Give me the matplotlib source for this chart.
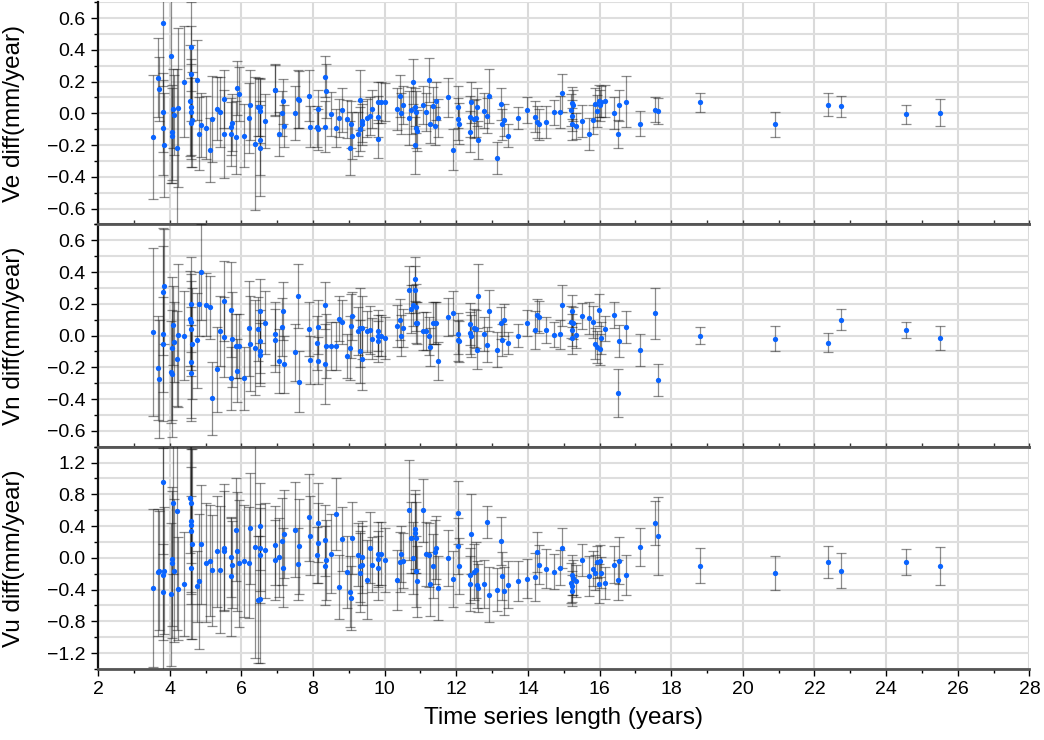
import matplotlib
matplotlib.use('Agg')
import matplotlib.pyplot as plt
from matplotlib.ticker import MultipleLocator, FuncFormatter

plt.rcParams['font.family'] = ['Liberation Sans', 'DejaVu Sans']

# ---------------- data ----------------
# time series length of each station (years)
years = [
    3.545, 3.68, 3.70, 3.81, 3.82, 3.80, 3.84, 4.03, 4.06, 4.07,
    4.09, 4.12, 4.20, 4.23, 4.39, 4.57, 4.60, 4.60, 4.59, 4.59,
    4.61, 4.59, 4.76, 4.83, 4.86, 5.02, 5.11, 5.17, 5.31, 5.41,
    5.52, 5.52, 5.72, 5.74, 5.72, 5.85, 5.88, 5.94, 6.06, 6.20,
    6.23, 6.39, 6.46, 6.52, 6.52, 6.53, 6.53, 6.65, 6.93, 6.94,
    7.06, 7.15, 7.14, 7.20, 7.49, 7.58, 7.62, 7.90, 7.92, 8.10,
    8.14, 8.15, 8.33, 8.35, 8.34, 8.49, 8.63, 8.73, 8.81, 8.96,
    9.03, 9.05, 9.09, 9.25, 9.31, 9.31, 9.36, 9.38, 9.52, 9.58,
    9.64, 9.80, 9.80, 9.81, 9.91, 10.0,
    10.34, 10.43, 10.45, 10.5, 10.68, 10.73, 10.78, 10.86, 10.85, 10.87,
    10.88, 10.91, 11.07, 11.16, 11.24, 11.26, 11.36, 11.40, 11.44, 11.5,
    11.77, 11.92, 12.04, 12.05, 12.07, 12.39, 12.42, 12.39, 12.48, 12.54,
    12.57, 12.6, 12.76, 12.85, 12.9, 13.14, 13.26, 13.28, 13.34, 13.45,
    13.71, 13.98, 14.19, 14.25, 14.3, 14.51, 14.72, 14.9, 14.95, 15.19,
    15.22, 15.23, 15.22, 15.26, 15.33, 15.51, 15.7, 15.81, 15.86, 15.94,
    15.98, 16.02, 16.05, 16.16, 16.4, 16.51, 16.54, 16.74, 17.14,
    17.54, 17.63, 18.79, 20.9, 22.39, 22.75, 24.55, 25.5,
]

ve = [
    -0.15, 0.225, 0.154, 0.57, 0.006, -0.09, -0.2, 0.36, -0.14, -0.12,
    0.03, -0.01, -0.22, 0.035, 0.2, 0.08, 0.42, 0.25, 0.04, 0.01,
    -0.04, -0.06, 0.21, -0.13, -0.075, -0.09, -0.23, -0.035, 0.03, 0.01,
    0.09, -0.13, -0.085, -0.06, -0.13, -0.15, 0.16, 0.12, -0.14, -0.03,
    0.05, -0.19, 0.04, 0.04, -0.17, -0.22, 0.015, -0.05, 0.15, 0.145,
    -0.13, 0.075, 0.0, -0.08, 0.005, 0.09, 0.085, 0.11, -0.085, -0.085,
    0.025, -0.1, 0.23, 0.14, -0.085, -0.005, -0.09, -0.03, 0.02, -0.035,
    -0.22, -0.07, -0.14, -0.13, 0.085, -0.1, -0.05, -0.07, -0.03, -0.015,
    0.03, -0.02, -0.16, 0.07, 0.07, 0.07,
    0.027, 0.11, 0.0, 0.05, -0.03, 0.018, 0.2, 0.04, -0.2, -0.09,
    0.008, -0.11, 0.05, 0.01, 0.21, -0.065, 0.045, -0.08, 0.08, -0.03,
    0.1, -0.23, 0.04, -0.035, -0.065, -0.02, 0.07, -0.115, -0.035, -0.03,
    0.04, -0.17, 0.016, -0.015, 0.11, -0.28, 0.06, -0.07, -0.04, -0.14,
    -0.03, 0.02, -0.02, -0.055, -0.07, -0.055, 0.006, 0.01, 0.13, 0.02,
    0.066, -0.014, -0.065, 0.05, -0.08, -0.05, -0.13, -0.04, 0.06, 0.017,
    0.077, 0.05, 0.074, 0.077, 0.004, -0.13, 0.05, 0.074, -0.065,
    0.023, 0.015, 0.07, -0.07, 0.055, 0.045, -0.005, 0.005,
]
ve_err = [
    0.39, 0.25, 0.2, 0.4, 0.25, 0.3, 0.33, 0.8, 0.3, 0.3,
    0.25, 0.25, 0.5, 0.5, 0.35, 0.35, 0.28, 0.3, 0.3, 0.3,
    0.3, 0.28, 0.25, 0.23, 0.2, 0.2, 0.2, 0.27, 0.2, 0.22,
    0.18, 0.28, 0.18, 0.18, 0.2, 0.23, 0.17, 0.17, 0.2, 0.22,
    0.22, 0.42, 0.18, 0.18, 0.22, 0.3, 0.2, 0.17, 0.16, 0.16,
    0.14, 0.14, 0.14, 0.13, 0.17, 0.18, 0.18, 0.16, 0.13, 0.13,
    0.12, 0.13, 0.13, 0.17, 0.16, 0.14, 0.12, 0.12, 0.14, 0.12,
    0.17, 0.15, 0.15, 0.14, 0.19, 0.14, 0.13, 0.13, 0.12, 0.12,
    0.12, 0.13, 0.12, 0.13, 0.13, 0.12,
    0.13, 0.13, 0.13, 0.12, 0.17, 0.15, 0.14, 0.12, 0.18, 0.13,
    0.13, 0.13, 0.12, 0.12, 0.14, 0.12, 0.12, 0.12, 0.12, 0.12,
    0.12, 0.13, 0.13, 0.13, 0.13, 0.13, 0.13, 0.13, 0.12, 0.12,
    0.12, 0.12, 0.11, 0.11, 0.17, 0.1, 0.1, 0.1, 0.1, 0.07,
    0.07, 0.08, 0.1, 0.1, 0.1, 0.1, 0.08, 0.1, 0.12, 0.1,
    0.1, 0.1, 0.1, 0.1, 0.08, 0.1, 0.1, 0.09, 0.1, 0.1,
    0.1, 0.1, 0.1, 0.1, 0.1, 0.09, 0.1, 0.16, 0.08,
    0.08, 0.08, 0.06, 0.08, 0.07, 0.065, 0.06, 0.085,
]

vn = [
    0.023, -0.204, -0.274, 0.276, 0.012, -0.054, 0.31, -0.23, -0.24, -0.08,
    0.065, -0.04, -0.145, 0.003, 0.0, 0.107, 0.198, 0.044, 0.086, -0.168,
    -0.05, -0.235, -0.03, 0.2, 0.4, 0.195, 0.177, -0.394, -0.213, 0.03,
    0.217, -0.01, 0.163, -0.023, -0.27, -0.066, -0.22, -0.066, -0.27, 0.045,
    -0.05, -0.077, 0.04, 0.156, -0.1, -0.12, -0.036, 0.082, 0.012, -0.03,
    -0.16, 0.155, 0.054, -0.18, -0.105, 0.25, -0.29, 0.04, -0.153, -0.048,
    0.056, -0.157, 0.19, -0.066, -0.18, -0.066, -0.066, 0.107, 0.086, -0.13,
    -0.077, 0.06, 0.123, 0.028, 0.05, -0.1, 0.05, -0.145, 0.026, 0.036,
    -0.02, 0.03, -0.035, 0.0, 0.0, -0.015,
    0.06, 0.1, 0.0, 0.045, 0.29, 0.166, 0.19, 0.355, 0.29, 0.177,
    0.082, 0.08, 0.03, 0.03, -0.002, -0.072, 0.08, 0.08, 0.08, -0.159,
    0.115, 0.143, 0.012, -0.03, -0.035, 0.073, -0.002, 0.016, 0.05, 0.04,
    -0.093, 0.25, 0.01, -0.057, 0.156, -0.09, 0.08, -0.03, 0.098, -0.047,
    0.0, 0.08, 0.036, 0.13, 0.118, 0.036, 0.006, 0.008, 0.19, 0.086,
    0.156, 0.034, -0.018, 0.08, 0.002, 0.123, 0.11, 0.086, -0.05, -0.072,
    0.16, -0.087, -0.013, 0.044, 0.13, -0.36, -0.035, 0.053, -0.09,
    0.14, -0.28, 0.0, -0.02, -0.045, 0.1, 0.035, -0.015,
]
vn_err = [
    0.53, 0.33, 0.37, 0.4, 0.55, 0.3, 0.36, 0.32, 0.4, 0.45,
    0.25, 0.25, 0.3, 0.45, 0.28, 0.3, 0.3, 0.3, 0.3, 0.35,
    0.35, 0.3, 0.3, 0.2, 0.3, 0.2, 0.2, 0.23, 0.27, 0.22,
    0.25, 0.25, 0.3, 0.3, 0.2, 0.2, 0.2, 0.2, 0.2, 0.3,
    0.3, 0.3, 0.2, 0.2, 0.2, 0.2, 0.2, 0.2, 0.2, 0.2,
    0.2, 0.18, 0.18, 0.18, 0.18, 0.2, 0.19, 0.17, 0.15, 0.17,
    0.17, 0.15, 0.15, 0.2, 0.25, 0.15, 0.15, 0.14, 0.14, 0.14,
    0.2, 0.2, 0.15, 0.15, 0.25, 0.2, 0.2, 0.2, 0.13, 0.15,
    0.13, 0.13, 0.13, 0.13, 0.13, 0.13,
    0.13, 0.13, 0.13, 0.12, 0.15, 0.15, 0.13, 0.14, 0.15, 0.15,
    0.13, 0.13, 0.12, 0.12, 0.12, 0.12, 0.13, 0.13, 0.13, 0.12,
    0.12, 0.14, 0.13, 0.13, 0.13, 0.13, 0.13, 0.13, 0.12, 0.12,
    0.12, 0.2, 0.11, 0.11, 0.13, 0.11, 0.1, 0.1, 0.1, 0.07,
    0.07, 0.08, 0.12, 0.1, 0.1, 0.08, 0.08, 0.09, 0.13, 0.1,
    0.1, 0.1, 0.1, 0.1, 0.08, 0.08, 0.1, 0.1, 0.1, 0.1,
    0.1, 0.1, 0.1, 0.08, 0.08, 0.15, 0.1, 0.1, 0.1,
    0.16, 0.1, 0.055, 0.08, 0.06, 0.065, 0.05, 0.075,
]

vu = [
    -0.38, -0.18, -0.16, 0.95, -0.21, -0.43, -0.16, -0.46, -0.01, -0.063,
    0.694, -0.16, 0.59, -0.388, -0.33, 0.757, 0.687, 0.465, 0.34, 0.413,
    0.176, -0.127, -0.36, -0.295, 0.17, -0.063, -0.034, -0.156, 0.084, -0.15,
    0.13, 0.09, 0.008, -0.084, -0.23, 0.357, 0.084, -0.07, -0.04, -0.063,
    0.374, 0.138, -0.527, -0.52, 0.397, 0.126, 0.033, 0.097, 0.156, -0.025,
    0.008, -0.122, 0.21, 0.3, 0.353, -0.076, 0.147, 0.51, 0.28, 0.033,
    0.445, 0.188, 0.22, -0.025, -0.1, 0.054, 0.55, -0.37, 0.24, -0.18,
    -0.426, -0.506, 0.252, 0.042, -0.107, -0.187, 0.008, -0.094, -0.274, 0.13,
    -0.084, -0.013, -0.13, 0.054, 0.054, -0.025,
    -0.28, -0.05, 0.046, -0.034, 0.597, 0.256, 0.0, 0.36, 0.31, 0.256,
    -0.17, -0.295, 0.597, 0.046, 0.038, -0.33, -0.1, 0.076, 0.13, -0.38,
    0.0, -0.27, 0.57, 0.15, -0.1, -0.22, 0.3, -0.325, -0.18, -0.15,
    -0.338, -0.38, -0.33, 0.45, -0.464, -0.404, 0.21, -0.227, -0.42, -0.338,
    -0.29, -0.262, -0.245, 0.076, -0.084, -0.135, -0.177, -0.122, 0.126, -0.32,
    -0.22, -0.413, -0.36, -0.253, -0.29, -0.029, -0.227, -0.135, -0.19, -0.055,
    -0.325, -0.038, -0.185, -0.32, -0.084, -0.28, -0.034, -0.215, 0.14,
    0.44, 0.28, -0.1, -0.19, -0.05, -0.16, -0.05, -0.1,
]
vu_err = [
    1.0, 0.8, 0.75, 0.9, 1.6, 0.6, 0.8, 0.9, 0.85, 0.95,
    0.9, 0.9, 1.5, 0.65, 0.65, 0.7, 0.75, 0.9, 0.8, 1.0,
    1.2, 0.9, 0.45, 0.85, 0.75, 0.75, 0.7, 0.7, 0.7, 0.8,
    0.8, 0.75, 0.5, 0.55, 0.75, 0.65, 0.75, 0.8, 0.7, 0.7,
    0.7, 1.4, 0.8, 0.8, 0.55, 0.55, 0.6, 0.6, 0.5, 0.5,
    0.5, 0.5, 0.55, 0.55, 0.6, 0.45, 0.6, 0.55, 0.5, 0.35,
    0.5, 0.5, 0.45, 0.5, 0.5, 0.5, 0.45, 0.4, 0.4, 0.45,
    0.45, 0.4, 0.45, 0.4, 0.45, 0.5, 0.45, 0.5, 0.5, 0.45,
    0.35, 0.35, 0.4, 0.4, 0.4, 0.4,
    0.38, 0.38, 0.35, 0.35, 0.63, 0.45, 0.45, 0.5, 0.5, 0.45,
    0.45, 0.45, 0.4, 0.4, 0.4, 0.4, 0.4, 0.4, 0.4, 0.4,
    0.35, 0.35, 0.4, 0.35, 0.35, 0.35, 0.5, 0.35, 0.35, 0.35,
    0.3, 0.3, 0.3, 0.2, 0.35, 0.27, 0.3, 0.3, 0.3, 0.3,
    0.25, 0.25, 0.3, 0.25, 0.25, 0.25, 0.22, 0.22, 0.25, 0.25,
    0.25, 0.2, 0.2, 0.22, 0.2, 0.2, 0.25, 0.22, 0.22, 0.2,
    0.25, 0.2, 0.2, 0.2, 0.23, 0.25, 0.3, 0.25, 0.24,
    0.28, 0.49, 0.22, 0.21, 0.2, 0.22, 0.16, 0.24,
]

panels = [
    ('Ve diff(mm/year)', ve, ve_err, 0.7, 0.2, 0.1),
    ('Vn diff(mm/year)', vn, vn_err, 0.7, 0.2, 0.1),
    ('Vu diff(mm/year)', vu, vu_err, 1.4, 0.4, 0.2),
]

# ---------------- figure ----------------
fig, axes = plt.subplots(3, 1, figsize=(10.44, 7.40), dpi=100, sharex=True)
fig.subplots_adjust(left=0.094, right=0.986, top=0.997, bottom=0.096, hspace=0)

fmt = FuncFormatter(lambda v, pos: f'{v:.1f}'.replace('-', '\u2212'))

for i, (ax, (label, vals, errs, lim, major, minor)) in enumerate(zip(axes, panels)):
    ax.errorbar(years, vals, yerr=errs, fmt='o', ms=3.8, mfc='#0a64ff', mec='none',
                ecolor=(0.1, 0.1, 0.1, 0.5), elinewidth=0.9, capsize=3.5,
                capthick=0.9, zorder=3)
    ax.set_ylim(-lim, lim)
    ax.set_xlim(2, 28)
    ax.yaxis.set_major_locator(MultipleLocator(major))
    ax.yaxis.set_minor_locator(MultipleLocator(minor))
    ax.yaxis.set_major_formatter(fmt)
    ax.xaxis.set_major_locator(MultipleLocator(2))
    ax.xaxis.set_minor_locator(MultipleLocator(1))

    ax.set_axisbelow(True)
    ax.grid(axis='y', which='both', color='#dedede', lw=1.5)
    ax.grid(axis='x', which='major', color='#dadada', lw=1.5)

    ax.spines['right'].set_visible(False)
    ax.spines['left'].set_color('#111111')
    ax.spines['left'].set_linewidth(1.6)
    for s in ('top', 'bottom'):
        ax.spines[s].set_color('#555555')
        ax.spines[s].set_linewidth(2.0)
    if i == 0:
        ax.spines['top'].set_visible(False)

    ax.tick_params(axis='y', which='major', direction='out', length=5, width=1,
                   labelsize=14, pad=4)
    ax.tick_params(axis='y', which='minor', direction='out', length=3, width=1)
    ax.tick_params(axis='y', right=False)

    ax.set_ylabel(label, fontsize=17.5)
    ax.yaxis.set_label_coords(-0.078, 0.5)

    if i < 2:
        ax.tick_params(axis='x', which='both', direction='in', length=3, width=1,
                       labelbottom=False, color='#333333')
    else:
        ax.tick_params(axis='x', which='major', direction='out', length=5, width=1,
                       labelsize=14, pad=4)
        ax.tick_params(axis='x', which='minor', direction='out', length=3, width=1)

axes[2].set_xlabel('Time series length (years)', fontsize=17.5, labelpad=6)

plt.savefig('out.png', dpi=100)
